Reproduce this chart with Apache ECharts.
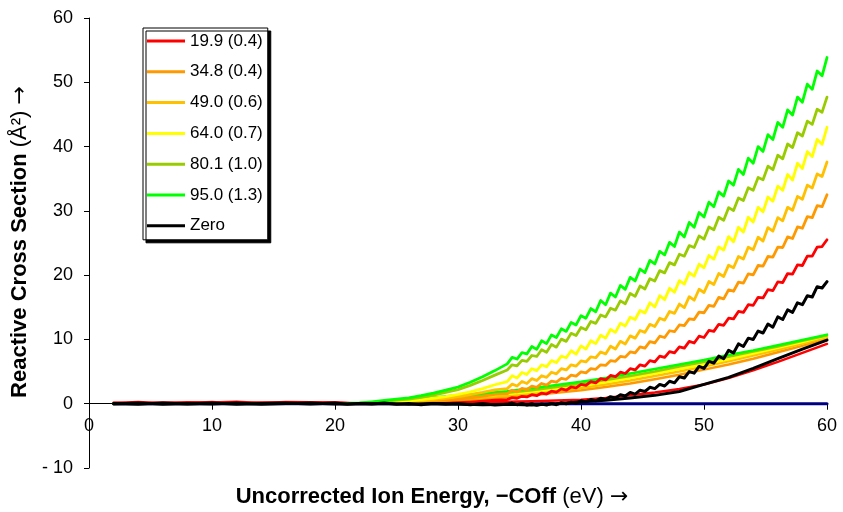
<!DOCTYPE html>
<html>
<head>
<meta charset="utf-8">
<script src="https://cdn.jsdelivr.net/npm/echarts@6/dist/echarts.min.js"></script>
<style>
  html, body { margin: 0; padding: 0; background: #fff; }
  #chart { width: 843px; height: 512px; }
</style>
</head>
<body>
<div id="chart"></div>
<script>
// Collision energy grid (eV): coarse below threshold, fine where the curves rise
const energyHi = [2,4,6,8,10,12,14,16,18,20,
  21,22,23,24,25,26,27,28,29,30,31,32,33,
  34,34.4,34.8,35.2,35.6,36,36.4,36.8,37.2,37.6,38,38.4,38.8,39.2,39.6,
  40,40.4,40.8,41.2,41.6,42,42.4,42.8,43.2,43.6,44,44.4,44.8,45.2,45.6,
  46,46.4,46.8,47.2,47.6,48,48.4,48.8,49.2,49.6,50,50.4,50.8,51.2,51.6,
  52,52.4,52.8,53.2,53.6,54,54.4,54.8,55.2,55.6,56,56.4,56.8,57.2,57.6,
  58,58.4,58.8,59.2,59.6,60];
const energyLo = [2,4,6,8,10,12,14,16,18,20,22,24,26,28,30,32,34,36,38,40,
  42,44,46,48,50,52,54,56,58,60];

// Measured reactive cross sections (Å²) on energyHi
const sigma199 = [0.1,0.25,0.05,0.2,0.15,0.3,0.1,0.25,0.2,0.15,
  0.1,0,0.02,0,0.02,0,0.03,0.05,0.09,0.16,0.26,0.39,0.55,
  0.65,0.95,0.85,1.15,1.05,1.4,1.25,1.65,1.5,1.95,1.8,2.3,2.1,2.6,2.45,
  3.0,2.85,3.45,3.25,3.9,3.7,4.4,4.2,4.9,4.7,5.45,5.25,6.05,5.85,6.7,
  6.5,7.4,7.2,8.1,7.9,8.85,8.65,9.7,9.45,10.5,10.3,11.4,11.25,12.35,12.2,
  13.3,13.2,14.35,14.2,15.4,15.3,16.55,16.45,17.75,17.6,18.95,18.85,20.25,20.15,21.6,
  21.5,22.95,22.95,24.35,24.45,25.5];
const sigma348 = [0,0,0,0,0,0,0,0,0,0,
  0,0.01,0.03,0.06,0.1,0.17,0.26,0.37,0.52,0.7,0.91,1.15,1.44,
  1.55,2.1,1.85,2.4,2.2,2.75,2.55,3.15,2.9,3.5,3.35,3.95,3.8,4.45,4.3,
  4.95,4.8,5.45,5.35,6.05,5.95,6.7,6.6,7.35,7.25,8.05,7.9,8.85,8.65,9.65,
  9.45,10.5,10.3,11.35,11.2,12.25,12.15,13.2,13.1,14.25,14.15,15.3,15.15,16.55,16.3,
  17.7,17.5,18.9,18.75,20.2,20.05,21.5,21.4,22.9,22.8,24.35,24.3,25.95,25.7,27.5,
  27.3,29.1,28.95,30.8,30.65,32.5];
const sigma490 = [0,0,0,0,0,0,0,0,0,0,
  0,0.01,0.04,0.1,0.19,0.3,0.45,0.63,0.85,1.11,1.41,1.75,2.15,
  2.35,3.05,2.75,3.45,3.15,3.9,3.6,4.35,4.1,4.9,4.65,5.45,5.25,6.05,5.85,
  6.65,6.5,7.3,7.15,8.05,7.75,8.95,8.5,9.7,9.3,10.55,10.2,11.4,11.1,12.35,
  12.0,13.3,13.0,14.35,14.05,15.5,14.95,16.65,16.1,17.8,17.3,19.0,18.55,20.25,19.8,
  21.55,21.15,22.9,22.5,24.35,23.95,25.9,25.3,27.4,26.85,28.95,28.45,30.55,30.1,32.25,
  31.8,34.0,33.55,35.75,35.35,37.6];
const sigma640 = [0,0,0,0,0,0,0,0,0,0,
  0.01,0.04,0.11,0.22,0.35,0.45,0.62,0.85,1.1,1.45,1.85,2.35,2.95,
  3.45,4.35,4.0,4.85,4.55,5.45,5.15,6.05,5.75,6.7,6.4,7.4,7.15,8.25,7.7,
  9.0,8.5,9.8,9.35,10.65,10.2,11.55,11.1,12.5,12.1,13.45,13.1,14.5,14.1,15.7,
  15.05,16.8,16.2,17.95,17.35,19.15,18.6,20.4,19.85,21.7,21.15,23.05,22.5,24.4,23.9,
  26.0,25.2,27.45,26.7,29.0,28.25,30.55,29.85,32.15,31.5,33.85,33.2,35.65,34.8,37.4,
  36.6,39.2,38.45,41.1,40.35,43.0];
const sigma801 = [0,0,0,0,0,0,0,0,0,0,
  0.01,0.07,0.19,0.36,0.55,0.7,1.0,1.35,1.75,2.2,2.85,3.6,4.45,
  5.25,6.05,5.9,6.75,6.6,7.5,7.35,8.4,8.0,9.2,8.8,10.05,9.7,10.95,10.6,
  11.85,11.5,12.8,12.5,13.8,13.5,14.85,14.55,16.0,15.55,17.15,16.7,18.3,17.85,19.45,
  19.1,20.7,20.35,21.95,21.6,23.25,22.95,24.6,24.3,26.1,25.6,27.5,27.05,29.0,28.55,
  30.5,30.05,32.0,31.6,33.6,33.2,35.2,34.85,36.95,36.4,38.65,38.1,40.4,39.85,42.15,
  41.65,43.95,43.45,45.8,45.35,47.7];
const sigma950 = [0,0,0,0,0,0,0,0,0,0,
  0.03,0.13,0.3,0.5,0.7,0.9,1.25,1.65,2.1,2.6,3.35,4.2,5.15,
  6.2,7.2,6.95,7.95,7.75,8.9,8.45,9.8,9.35,10.7,10.3,11.65,11.25,12.65,12.25,
  13.7,13.3,14.8,14.3,16.05,15.4,17.2,16.6,18.4,17.8,19.65,19.1,20.95,20.4,22.3,
  21.75,23.7,23.15,25.1,24.45,26.7,25.95,28.2,27.45,29.75,29.05,31.35,30.65,32.95,32.3,
  34.65,34.0,36.45,35.65,38.2,37.4,40.0,39.25,41.85,41.1,43.75,43.0,45.7,44.9,47.7,
  46.9,49.7,48.9,51.75,51.0,53.85];
const sigmaZero = [0.05,-0.1,0.1,-0.05,0.1,-0.1,0.05,0.1,-0.05,0.1,
  -0.1,0.05,-0.05,0.1,-0.1,0.05,-0.15,0.05,-0.1,0.0,-0.15,0.05,-0.2,
  -0.1,0.1,-0.15,0.05,-0.2,0.0,-0.25,-0.05,-0.2,0.05,-0.15,0.15,0.0,0.25,0.1,
  0.45,0.3,0.65,0.45,0.85,0.65,1.1,0.9,1.4,1.2,1.75,1.5,2.1,1.9,2.55,
  2.35,3.0,2.75,3.5,3.25,4.2,4.0,5.0,4.75,5.8,5.5,6.6,6.3,7.4,7.0,
  8.3,7.9,9.3,8.9,10.2,10.0,11.3,11.0,12.4,11.9,13.5,13.1,14.6,14.2,15.7,
  15.4,16.8,16.6,18.2,18.0,19.0];

// Companion curves on energyLo (same colour order)
const lower199 = [0.15,0.05,0.2,0.1,0.25,0.05,0.2,0.15,0.1,0.2,
  0,0,0.05,0.1,0.15,0.2,0.3,0.4,0.5,0.6,0.9,1.3,1.75,2.3,3.0,4.0,5.2,6.5,7.9,9.3];
const lower348 = [0,0,0,0,0,0,0,0,0,0,
  0,0.05,0.2,0.35,0.5,0.7,1.0,1.3,1.7,2.1,2.6,3.15,3.8,4.5,5.3,6.1,7.0,8.0,9.0,10.1];
const lower490 = [0,0,0,0,0,0,0,0,0,0,
  0,0.1,0.3,0.5,0.7,0.95,1.25,1.6,2.0,2.45,3.0,3.6,4.3,5.0,5.8,6.6,7.5,8.4,9.35,10.35];
const lower640 = [0,0,0,0,0,0,0,0,0,0,
  0.02,0.15,0.4,0.65,0.9,1.2,1.5,1.85,2.3,2.8,3.35,4.0,4.7,5.4,6.1,6.9,7.8,8.7,9.6,10.55];
const lower801 = [0,0,0,0,0,0,0,0,0,0,
  0.03,0.22,0.5,0.8,1.1,1.4,1.7,2.1,2.6,3.1,3.7,4.3,5.0,5.8,6.5,7.3,8.1,8.9,9.8,10.6];
const lower950 = [0,0,0,0,0,0,0,0,0,0,
  0.05,0.3,0.6,0.95,1.3,1.6,1.95,2.4,2.9,3.4,4.0,4.7,5.4,6.1,6.8,7.6,8.3,9.1,9.9,10.75];
const lowerZero = [-0.05,0.1,-0.1,0.05,-0.05,0.1,-0.1,0.05,0.1,-0.05,
  0,0.05,-0.1,0.05,-0.05,-0.15,-0.1,-0.2,0.0,0.3,0.55,0.9,1.3,1.9,3.0,4.1,5.5,7.0,8.5,9.9];

// Baseline at zero cross section
const baselineX = [2, 60];
const baselineY = [0, 0];

const seriesNames = ['19.9 (0.4)', '34.8 (0.4)', '49.0 (0.6)', '64.0 (0.7)', '80.1 (1.0)', '95.0 (1.3)', 'Zero'];

const colors = ['#FF0000', '#FF9900', '#FFC000', '#FFFF00', '#99CC00', '#00FF00', '#000000'];
const FONT = "'Liberation Sans', Arial, Helvetica, sans-serif";
const ARROW_FONT = "'DejaVu Sans', sans-serif";

const Y_MIN = -10, Y_MAX = 60;
const GRID = { left: 89, right: 16, top: 18, bottom: 44 };
const plotHeight = 512 - GRID.top - GRID.bottom;
// shift the energy axis up from the bottom edge to the zero line
const xAxisOffset = -plotHeight * (0 - Y_MIN) / (Y_MAX - Y_MIN);

function pairs(xs, ys) {
  return xs.map((x, i) => [x, ys[i]]);
}
function line(name, xs, ys, color, width) {
  return {
    type: 'line', name: name, data: pairs(xs, ys),
    showSymbol: false, symbol: 'none', silent: true, animation: false,
    lineStyle: { color: color, width: width, join: 'round', cap: 'round' },
    itemStyle: { color: color },
    emphasis: { disabled: true }
  };
}

const upper = [sigma199, sigma348, sigma490, sigma640, sigma801, sigma950];
const lower = [lower199, lower348, lower490, lower640, lower801, lower950];

const series = [];
series.push(line('baseline', baselineX, baselineY, '#000080', 3));
lower.forEach((ys, i) => series.push(line('companion ' + seriesNames[i], energyLo, ys, colors[i], 2.5)));
upper.forEach((ys, i) => series.push(line(seriesNames[i], energyHi, ys, colors[i], 2.8)));
series.push(line('companion Zero', energyLo, lowerZero, colors[6], 3));
series.push(line(seriesNames[6], energyHi, sigmaZero, colors[6], 3));

const titleRich = {
  b: { fontSize: 22, fontWeight: 'bold', fontFamily: FONT, fill: '#000' },
  n: { fontSize: 22, fontFamily: FONT, fill: '#000' },
  a: { fontSize: 22, fontFamily: ARROW_FONT, fill: '#000' }
};

const chart = echarts.init(document.getElementById('chart'), null, { renderer: 'canvas' });
chart.setOption({
  animation: false,
  backgroundColor: '#ffffff',
  grid: { left: GRID.left, right: GRID.right, top: GRID.top, bottom: GRID.bottom, containLabel: false },
  xAxis: {
    type: 'value', min: 0, max: 60, interval: 10,
    offset: xAxisOffset,
    axisLine: { show: true, onZero: false, lineStyle: { color: '#000', width: 1 } },
    axisTick: { show: true, length: 6, lineStyle: { color: '#000' } },
    axisLabel: { color: '#000', fontSize: 18, fontFamily: FONT, margin: 13 },
    splitLine: { show: false }
  },
  yAxis: {
    type: 'value', min: Y_MIN, max: Y_MAX, interval: 10,
    axisLine: { show: true, onZero: false, lineStyle: { color: '#000', width: 1 } },
    axisTick: { show: true, length: 5, lineStyle: { color: '#000' } },
    axisLabel: { color: '#000', fontSize: 18, fontFamily: FONT, margin: 16,
      formatter: v => (v < 0 ? '- ' + Math.abs(v) : String(v)) },
    splitLine: { show: false }
  },
  legend: {
    data: seriesNames.map(n => ({ name: n, icon: 'rect' })),
    orient: 'vertical', left: 143, top: 28,
    itemWidth: 38, itemHeight: 3, itemGap: 12.8,
    padding: [4, 5, 5, 4],
    backgroundColor: '#ffffff', borderColor: '#000', borderWidth: 1,
    shadowColor: '#000', shadowBlur: 0, shadowOffsetX: 3, shadowOffsetY: 3,
    selectedMode: false,
    textStyle: { color: '#000', fontSize: 17, fontFamily: FONT, lineHeight: 18 }
  },
  graphic: [
    {
      type: 'text', x: 432, y: 497, silent: true,
      style: {
        text: '{b|Uncorrected Ion Energy, \u2212COff}{n| (eV) }{a|\u2192}',
        align: 'center', verticalAlign: 'middle', fill: '#000', rich: titleRich
      }
    },
    {
      type: 'text', x: 20, y: 242, rotation: Math.PI / 2, silent: true,
      style: {
        text: '{b|Reactive Cross Section}{n| (\u00C5\u00B2) }{a|\u2192}',
        align: 'center', verticalAlign: 'middle', fill: '#000', rich: titleRich
      }
    }
  ],
  series: series
});
</script>
</body>
</html>
